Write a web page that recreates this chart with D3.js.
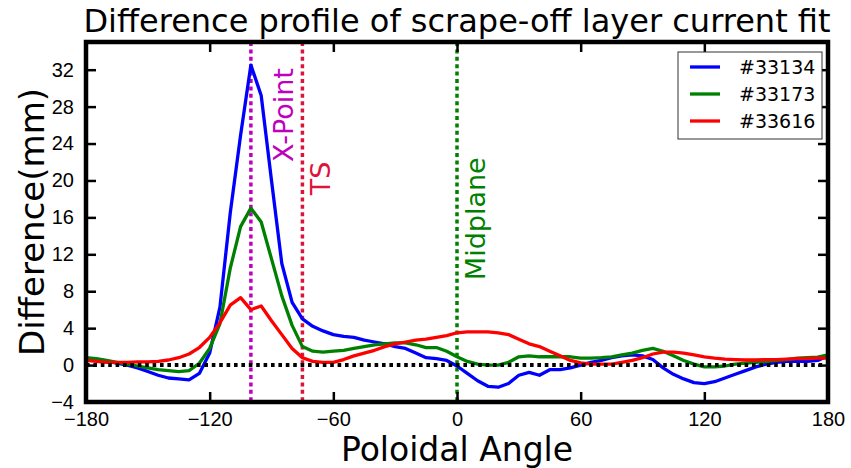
<!DOCTYPE html>
<html>
<head>
<meta charset="utf-8">
<script src="https://cdn.jsdelivr.net/npm/d3@7"></script>
<style>
  body { margin: 0; background: #fff; }
  svg { font-family: "DejaVu Sans", sans-serif; }
</style>
</head>
<body>
<div id="chart"></div>
<script>
// poloidal angle samples (deg)
const angles = [-180,-175,-170,-165,-160,-155,-150,-145,-140,-135,-130,-125,-120,-115,-110,-105,-100,-95,-90,-85,-80,-75,-70,-65,-60,-55,-50,-45,-40,-35,-30,-25,-20,-15,-10,-5,0,5,10,15,20,25,30,35,40,45,50,55,60,65,70,75,80,85,90,95,100,105,110,115,120,125,130,135,140,145,150,155,160,165,170,175,180];

const shot33134 = [0.7,0.6,0.4,0.2,0.0,-0.3,-0.7,-1.1,-1.4,-1.5,-1.6,-0.9,1.3,6.3,16.5,24.9,32.5,29.2,20.0,11.0,6.8,5.0,4.2,3.7,3.3,3.1,3.0,2.7,2.5,2.3,2.0,1.8,1.3,0.8,0.7,0.5,-0.1,-0.9,-1.7,-2.3,-2.4,-2.0,-1.1,-0.8,-1.1,-0.5,-0.5,-0.3,0.0,0.3,0.5,0.8,1.0,1.1,1.0,0.6,-0.3,-1.0,-1.5,-1.9,-2.0,-1.8,-1.4,-1.0,-0.6,-0.2,0.1,0.3,0.4,0.4,0.4,0.5,1.0];

const shot33173 = [0.8,0.7,0.5,0.3,0.1,-0.1,-0.3,-0.5,-0.6,-0.7,-0.6,0.2,1.8,4.5,10.5,15.0,17.0,15.5,11.5,7.5,4.3,2.0,1.5,1.4,1.5,1.6,1.8,2.0,2.2,2.3,2.4,2.4,2.2,1.9,1.9,1.5,0.9,0.4,0.1,0.0,0.0,0.3,0.9,1.0,0.9,0.9,0.9,0.9,0.75,0.75,0.8,0.9,1.1,1.3,1.6,1.8,1.5,1.0,0.5,0.1,-0.2,-0.2,-0.1,0.1,0.2,0.3,0.4,0.5,0.6,0.75,0.8,0.85,1.1];

const shot33616 = [0.5,0.4,0.3,0.3,0.3,0.35,0.35,0.4,0.55,0.8,1.2,1.9,3.0,4.6,6.5,7.3,6.0,6.4,4.8,3.3,1.8,0.8,0.4,0.3,0.3,0.6,1.0,1.3,1.6,2.0,2.3,2.5,2.7,2.8,3.0,3.2,3.5,3.6,3.6,3.6,3.5,3.3,2.8,2.3,2.0,1.5,1.0,0.5,0.25,0.1,0.1,0.1,0.3,0.5,0.8,1.2,1.4,1.4,1.3,1.1,0.9,0.75,0.65,0.6,0.55,0.55,0.6,0.6,0.65,0.7,0.7,0.75,0.75];

const shotNames = ['#33134', '#33173', '#33616'];
const shotColors = ['#0000ff', '#008000', '#ff0000'];

const xTicks = [-180, -120, -60, 0, 60, 120, 180];
const yTicks = [-4, 0, 4, 8, 12, 16, 20, 24, 28, 32];

// marker lines: position, label, colour, label anchor (angle of baseline, value of text start)
const markerAngles = [-100, -75, 0];
const markerLabels = ['X-Point', 'TS', 'Midplane'];
const markerColors = ['#bf00bf', '#dc143c', '#008000'];
const markerLabelX = [-79.6, -61.6, 13.6];
const markerLabelY = [22.0, 18.4, 9.2];

const W = 851, H = 468;
const margin = {top: 42, right: 23, bottom: 66, left: 86};
const width = W - margin.left - margin.right;
const height = H - margin.top - margin.bottom;

const svg = d3.select('#chart').append('svg')
    .attr('width', W)
    .attr('height', H);

const g = svg.append('g')
    .attr('transform', 'translate(' + margin.left + ',' + margin.top + ')');

const x = d3.scaleLinear().domain([-180, 180]).range([0, width]);
const y = d3.scaleLinear().domain([-4, 35]).range([height, 0]);

// vertical markers
markerAngles.forEach((a, i) => {
    g.append('line')
        .attr('x1', x(a)).attr('x2', x(a))
        .attr('y1', 0).attr('y2', height)
        .attr('stroke', markerColors[i])
        .attr('stroke-width', 3.5)
        .attr('stroke-dasharray', '4,3.4');
});

// curves
const series = [shot33134, shot33173, shot33616];
const line = d3.line()
    .x((d, i) => x(angles[i]))
    .y(d => y(d));

series.forEach((s, i) => {
    g.append('path')
        .datum(s)
        .attr('fill', 'none')
        .attr('stroke', shotColors[i])
        .attr('stroke-width', 3.3)
        .attr('stroke-linejoin', 'round')
        .attr('d', line);
});

// zero line
g.append('line')
    .attr('x1', 0).attr('x2', width)
    .attr('y1', y(0)).attr('y2', y(0))
    .attr('stroke', '#000')
    .attr('stroke-width', 4)
    .attr('stroke-dasharray', '3.6,3.8');

// marker labels
markerAngles.forEach((a, i) => {
    g.append('text')
        .attr('transform', 'translate(' + x(markerLabelX[i]) + ',' + y(markerLabelY[i]) + ') rotate(-90)')
        .attr('fill', markerColors[i])
        .style('font-size', '27px')
        .text(markerLabels[i]);
});

// axes, ticks pointing inward
const tickStyle = sel => {
    sel.select('.domain').remove();
    sel.selectAll('.tick line').attr('stroke-width', 2.5);
    sel.selectAll('.tick text').style('font-size', '20px').attr('fill', '#000');
};

g.append('g')
    .attr('transform', 'translate(0,' + height + ')')
    .call(d3.axisBottom(x).tickValues(xTicks).tickSize(-10).tickPadding(10))
    .call(tickStyle);

g.append('g')
    .call(d3.axisTop(x).tickValues(xTicks).tickSize(-10).tickFormat(''))
    .call(tickStyle);

g.append('g')
    .call(d3.axisLeft(y).tickValues(yTicks).tickSize(-10).tickPadding(12))
    .call(tickStyle);

g.append('g')
    .attr('transform', 'translate(' + width + ',0)')
    .call(d3.axisRight(y).tickValues(yTicks).tickSize(-10).tickFormat(''))
    .call(tickStyle);

// frame
g.append('rect')
    .attr('width', width)
    .attr('height', height)
    .attr('fill', 'none')
    .attr('stroke', '#000')
    .attr('stroke-width', 4.5);

// legend
const legend = g.append('g')
    .attr('transform', 'translate(' + (width - 150) + ',10)');

legend.append('rect')
    .attr('width', 144)
    .attr('height', 87)
    .attr('fill', '#fff')
    .attr('stroke', '#333')
    .attr('stroke-width', 1);

shotNames.forEach((name, i) => {
    const ly = 15 + i * 27;
    legend.append('line')
        .attr('x1', 12).attr('x2', 42)
        .attr('y1', ly).attr('y2', ly)
        .attr('stroke', shotColors[i])
        .attr('stroke-width', 3.3);
    legend.append('text')
        .attr('x', 61)
        .attr('y', ly + 7)
        .style('font-size', '19px')
        .text(name);
});

// titles
svg.append('text')
    .attr('x', margin.left + width / 2)
    .attr('y', 32)
    .attr('text-anchor', 'middle')
    .style('font-size', '32px')
    .text('Difference profile of scrape-off layer current fit');

svg.append('text')
    .attr('x', margin.left + width / 2)
    .attr('y', 461)
    .attr('text-anchor', 'middle')
    .style('font-size', '33px')
    .text('Poloidal Angle');

svg.append('text')
    .attr('transform', 'translate(44,' + (margin.top + height / 2) + ') rotate(-90)')
    .attr('text-anchor', 'middle')
    .style('font-size', '34px')
    .text('Difference(mm)');
</script>
</body>
</html>
